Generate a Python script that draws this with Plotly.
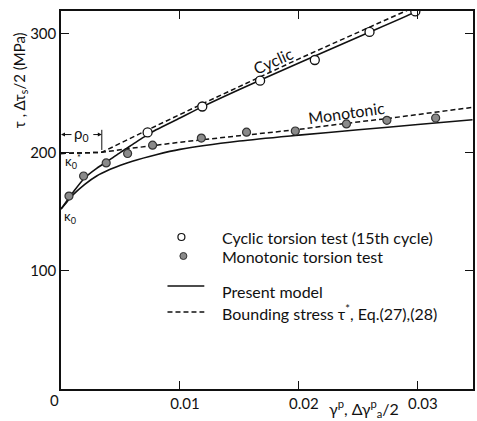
import plotly.graph_objects as go

# ---------------- data ----------------
cyc_test_x = [0.00728, 0.01188, 0.01674, 0.02134, 0.02594, 0.02979]
cyc_test_y = [216.8, 238.7, 260.5, 278.0, 301.7, 319.0]

mono_test_x = [0.00067, 0.0019, 0.0038, 0.0056, 0.0077, 0.0118, 0.0156, 0.0197, 0.0240, 0.0274, 0.0315]
mono_test_y = [163, 180, 191, 199, 206, 212, 217, 218, 224, 227, 229]

cyc_model_x = [0, 0.0005, 0.001, 0.002, 0.003, 0.004, 0.005, 0.006, 0.007, 0.008, 0.010, 0.012, 0.015, 0.020, 0.025, 0.030, 0.0346]
cyc_model_y = [152, 159, 166, 178.5, 186.5, 193, 200, 206.5, 213, 219, 229, 239, 253, 275.5, 297.5, 319.5, 344]

mono_model_x = [0, 0.0005, 0.001, 0.002, 0.003, 0.004, 0.005, 0.006, 0.008, 0.010, 0.015, 0.020, 0.025, 0.030, 0.0346]
mono_model_y = [152, 158, 164, 173, 180, 185, 189, 192.5, 198, 202.5, 209.5, 214.5, 219, 223.5, 227.5]

cyc_bound_x = [0, 0.00343, 0.0073, 0.012, 0.020, 0.030]
cyc_bound_y = [199, 200, 219, 241.5, 279, 324]

mono_bound_x = [0, 0.00343, 0.006, 0.0104, 0.015, 0.0197, 0.024, 0.0274, 0.0346]
mono_bound_y = [199, 200, 203.5, 209, 214, 219, 224.5, 228.5, 238]

x_ticks = [0.01, 0.02, 0.03]
x_tick_text = ["0.01", "0.02", "0.03"]
y_ticks = [100, 200, 300]
y_tick_text = ["100", "200", "300"]

rho0 = 0.00343

legend_labels = ["Cyclic torsion test (15th cycle)", "Monotonic torsion test",
                 "Present model", "Bounding stress τ<sup>*</sup>, Eq.(27),(28)"]

# ---------------- layout geometry ----------------
W, H = 477, 421
L, R, T, B = 61, 2, 11, 32
XR = [0, 0.03464]
YR = [0, 319.4]
FONT = "Lato"
INK = "#111"


def px(xp):
    return (xp - L) / (W - L - R)


def py(yp):
    return (H - B - yp) / (H - B - T)


fig = go.Figure()

line_kw = dict(color=INK, width=1.6)
dash_kw = dict(color=INK, width=1.5, dash="5px,3px")

fig.add_trace(go.Scatter(x=mono_bound_x, y=mono_bound_y, mode="lines", line=dash_kw))
fig.add_trace(go.Scatter(x=cyc_bound_x, y=cyc_bound_y, mode="lines", line=dash_kw))
fig.add_trace(go.Scatter(x=mono_model_x, y=mono_model_y, mode="lines",
                         line=dict(line_kw, shape="spline", smoothing=0.8)))
fig.add_trace(go.Scatter(x=cyc_model_x, y=cyc_model_y, mode="lines",
                         line=dict(line_kw, shape="spline", smoothing=0.8)))
fig.add_trace(go.Scatter(x=cyc_test_x, y=cyc_test_y, mode="markers",
                         marker=dict(symbol="circle", size=9, color="white", line=dict(color=INK, width=1.3))))
fig.add_trace(go.Scatter(x=mono_test_x, y=mono_test_y, mode="markers",
                         marker=dict(symbol="circle", size=8, color="#8a8a8a", line=dict(color="#333", width=1.2))))

ann = []
tf = dict(family=FONT, size=15, color=INK)
lf = dict(family=FONT, size=16, color=INK)
# axis titles
ann.append(dict(x=px(20), y=py(80), xref="paper", yref="paper", text="τ , Δτ<sub>s</sub>/2 (MPa)",
                textangle=-90, showarrow=False, xanchor="center", yanchor="middle", font=tf))
ann.append(dict(x=px(365), y=py(408), xref="paper", yref="paper",
                text="γ<sup>p</sup>, Δγ<sup>p</sup><sub>a</sub>/2", showarrow=False,
                xanchor="center", yanchor="middle", font=dict(family=FONT, size=16, color=INK)))
ann.append(dict(x=px(54), y=py(400), xref="paper", yref="paper", text="0", showarrow=False,
                xanchor="center", yanchor="middle", font=tf))
# curve labels
ann.append(dict(x=0.01782, y=278, text="Cyclic", textangle=-24, showarrow=False,
                xanchor="center", yanchor="middle", font=lf))
ann.append(dict(x=0.02401, y=234, text="Monotonic", textangle=-8, showarrow=False,
                xanchor="center", yanchor="middle", font=lf))
ann.append(dict(x=0.0001, y=145.5, text="κ<sub>0</sub>", xanchor="left", yanchor="middle", showarrow=False,
                font=dict(family=FONT, size=13, color=INK)))
ann.append(dict(x=0.0002, y=192.5, text="κ<sub>0</sub><sup>*</sup>", xanchor="left", yanchor="middle",
                showarrow=False, font=dict(family=FONT, size=13, color=INK)))
ann.append(dict(x=rho0 / 2, y=215.5, text="ρ<sub>0</sub>", showarrow=False, xanchor="center", yanchor="middle",
                font=dict(family=FONT, size=15, color=INK)))
ann.append(dict(x=0, y=215, text="", showarrow=True, ax=12, ay=0, arrowhead=2, arrowsize=0.8,
                arrowwidth=1, arrowcolor=INK))
ann.append(dict(x=rho0, y=215, text="", showarrow=True, ax=-10, ay=0, arrowhead=2, arrowsize=0.8,
                arrowwidth=1, arrowcolor=INK))

# legend
leg_y = [237, 256, 291, 312]
for lab, yy in zip(legend_labels, leg_y):
    ann.append(dict(x=px(221), y=py(yy), xref="paper", yref="paper", text=lab, xanchor="left",
                    yanchor="middle", showarrow=False, font=lf))

shapes = [
    dict(type="line", x0=rho0, x1=rho0, y0=202, y1=219, line=dict(color=INK, width=1)),
    dict(type="circle", xref="paper", yref="paper", xsizemode="pixel", ysizemode="pixel",
         xanchor=px(182), yanchor=py(237), x0=-3.5, x1=3.5, y0=-3.5, y1=3.5,
         line=dict(color=INK, width=1.2), fillcolor="white"),
    dict(type="circle", xref="paper", yref="paper", xsizemode="pixel", ysizemode="pixel",
         xanchor=px(184), yanchor=py(256), x0=-3.5, x1=3.5, y0=-3.5, y1=3.5,
         line=dict(color="#333", width=1), fillcolor="#8a8a8a"),
    dict(type="line", xref="paper", yref="paper", x0=px(168), x1=px(205), y0=py(286), y1=py(286),
         line=dict(color=INK, width=1.6)),
    dict(type="line", xref="paper", yref="paper", x0=px(168), x1=px(205), y0=py(312), y1=py(312),
         line=dict(color=INK, width=1.5, dash="5px,3px")),
]

axis_common = dict(showline=True, linecolor=INK, linewidth=1.5, mirror="ticks", ticks="inside",
                   ticklen=8, tickwidth=1.3, tickcolor=INK, showgrid=False, zeroline=False,
                   tickfont=dict(family=FONT, size=15, color=INK))

fig.update_layout(
    width=W, height=H,
    margin=dict(l=L, r=R, t=T, b=B, pad=0),
    paper_bgcolor="white", plot_bgcolor="white",
    showlegend=False,
    xaxis=dict(range=XR, tickvals=x_ticks, ticktext=x_tick_text, ticklabelshift=5, **axis_common),
    yaxis=dict(range=YR, tickvals=y_ticks, ticktext=y_tick_text, **axis_common),
    annotations=ann, shapes=shapes,
)

fig.write_html("out.html")
